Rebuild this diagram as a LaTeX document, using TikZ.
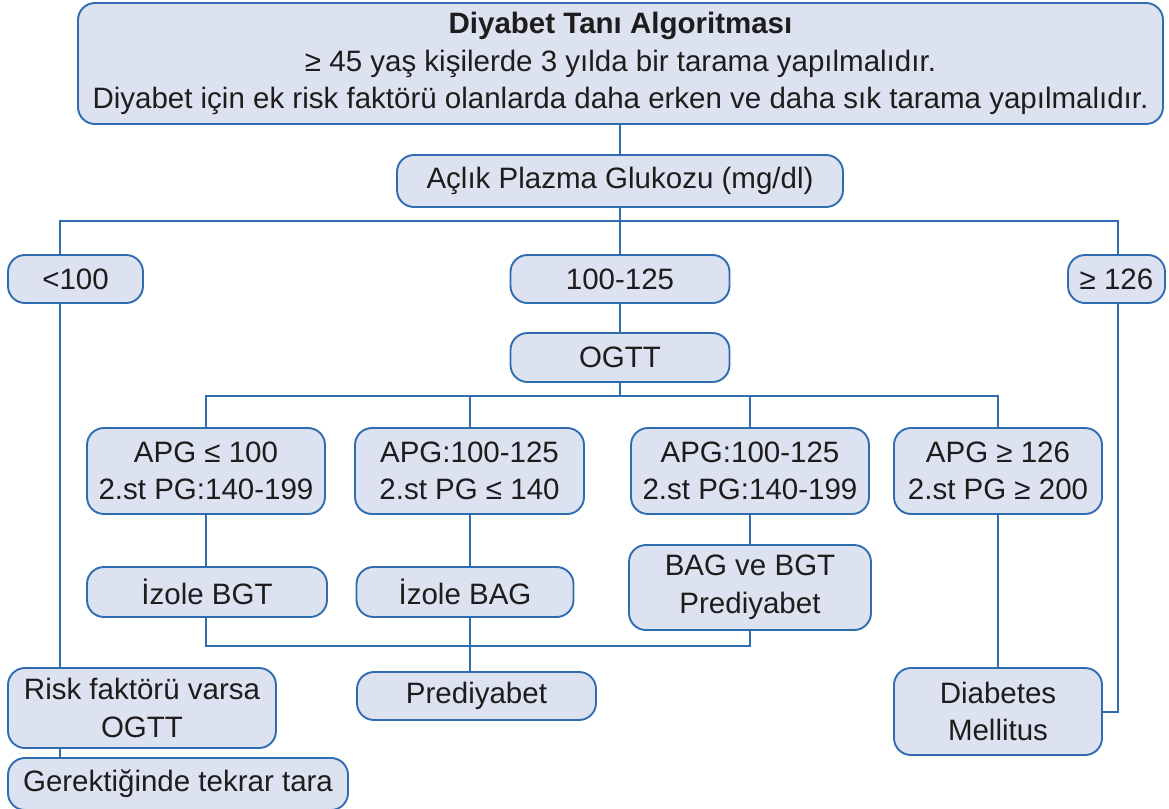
\documentclass[tikz,border=0pt]{standalone}
\usepackage{fontspec}
\setmainfont{Liberation Sans}
\definecolor{boxblue}{HTML}{2F6DB0}
\definecolor{boxfill}{HTML}{DDE2F0}
\definecolor{txt}{HTML}{1E1C1D}
\begin{document}
\begin{tikzpicture}[x=1pt,y=-1pt,
  box/.style={draw=boxblue, fill=boxfill, rounded corners=17pt, line width=1.9pt,
    align=center, text=txt, inner sep=0pt, font=\fontsize{29.5}{37.5}\selectfont},
  conn/.style={draw=boxblue, line width=2pt}]
\useasboundingbox (0,0) rectangle (1169,808);
% nodes
\node[box, minimum width=1085, minimum height=121] (top) at (620.5,63.5)
  {\textbf{Diyabet Tanı Algoritması}\\≥ 45 yaş kişilerde 3 yılda bir tarama yapılmalıdır.\\Diyabet için ek risk faktörü olanlarda daha erken ve daha sık tarama yapılmalıdır.};
\node[box, minimum width=446, minimum height=52] (acl) at (620,181) {Açlık Plazma Glukozu (mg/dl)};
\node[box, minimum width=135, minimum height=48] (lt) at (75.5,279) {<100};
\node[box, minimum width=219, minimum height=48] (mid) at (620,279) {100-125};
\node[box, minimum width=97, minimum height=48] (hi) at (1116.5,279) {≥ 126};
\node[box, minimum width=219, minimum height=49] (ogtt) at (620,357.5) {OGTT};
\node[box, minimum width=238, minimum height=86] (a1) at (206,471) {APG ≤ 100\\2.st PG:140-199};
\node[box, minimum width=229, minimum height=86] (a2) at (469.5,471) {APG:100-125\\2.st PG ≤ 140};
\node[box, minimum width=238, minimum height=86] (a3) at (750,471) {APG:100-125\\2.st PG:140-199};
\node[box, minimum width=208, minimum height=86] (a4) at (998,471) {APG ≥ 126\\2.st PG ≥ 200};
\node[box, minimum width=240, minimum height=50] (ibgt) at (207,592) {İzole BGT};
\node[box, minimum width=217, minimum height=50] (ibag) at (465,592) {İzole BAG};
\node[box, minimum width=242, minimum height=85] (bag) at (750,587.5) {BAG ve BGT\\Prediyabet};
\node[box, minimum width=239, minimum height=48] (pre) at (476.5,696) {Prediyabet};
\node[box, minimum width=208, minimum height=87] (dm) at (998,711.5) {Diabetes\\Mellitus};
\node[box, minimum width=268, minimum height=80] (risk) at (142,708) {Risk faktörü varsa\\OGTT};
\node[box, minimum width=340, minimum height=52] (ger) at (178,784) {Gerektiğinde tekrar tara};
% junctions
\coordinate (jl) at (60,221);
\coordinate (jr) at (1118,221);
\coordinate (ja) at (206,396);
\coordinate (jd) at (998,396);
\coordinate (jb1) at (206,646);
\coordinate (jb3) at (750,646);
\coordinate (jb2) at (469.5,646);
% connectors
\draw[conn] (acl.north|-top.south) -- (acl.north);
\draw[conn] (acl.south) -- (acl.south|-jl);
\draw[conn] (jl|-lt.north) -- (jl) -- (jr) -- (jr|-hi.north);
\draw[conn] (mid.north) -- (mid.north|-jl);
\draw[conn] (mid.south) -- (ogtt.north);
\draw[conn] (ogtt.south) -- (ogtt.south|-ja);
\draw[conn] (a1.north) -- (ja) -- (jd) -- (a4.north);
\draw[conn] (a2.north) -- (a2.north|-ja);
\draw[conn] (a3.north) -- (a3.north|-ja);
\draw[conn] (a1.south) -- (ibgt.north-|a1.south);
\draw[conn] (a2.south) -- (ibag.north-|a2.south);
\draw[conn] (a3.south) -- (bag.north);
\draw[conn] (a4.south) -- (dm.north);
\draw[conn] (ibgt.south-|jb1) -- (jb1) -- (jb3) -- (bag.south);
\draw[conn] (ibag.south-|jb2) -- (jb2) -- (pre.north-|jb2);
\draw[conn] (jl|-lt.south) -- (jl|-risk.north);
\draw[conn] (jl|-risk.south) -- (jl|-ger.north);
\draw[conn] (jr|-hi.south) |- (dm.east);
\end{tikzpicture}
\end{document}
